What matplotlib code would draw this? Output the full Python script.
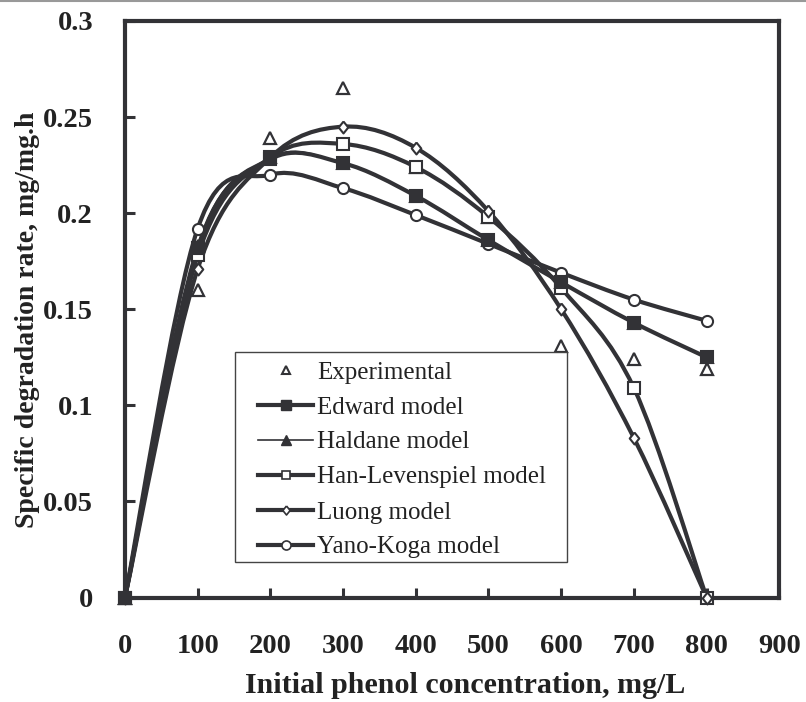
import matplotlib
matplotlib.use("Agg")
import matplotlib.pyplot as plt
from matplotlib.path import Path
from matplotlib.patches import PathPatch, Rectangle
from matplotlib.lines import Line2D
import numpy as np

# phenol concentration (mg/L) and specific degradation rate (mg/mg.h)
conc = [0, 100, 200, 300, 400, 500, 600, 700, 800]
experimental = [0, 0.160, 0.239, 0.265, 0.224, 0.198, 0.131, 0.124, 0.119]
edward = [0, 0.182, 0.228, 0.226, 0.209, 0.186, 0.164, 0.143, 0.125]
haldane = [0, 0.183, 0.229, 0.226, 0.209, 0.186, 0.164, 0.143, 0.125]
han_levenspiel = [0, 0.178, 0.229, 0.236, 0.224, 0.198, 0.161, 0.109, 0]
luong = [0, 0.171, 0.229, 0.245, 0.234, 0.201, 0.150, 0.083, 0]
yano_koga = [0, 0.192, 0.220, 0.213, 0.199, 0.184, 0.169, 0.155, 0.144]

xticks = [0, 100, 200, 300, 400, 500, 600, 700, 800, 900]
yticks = [0, 0.05, 0.1, 0.15, 0.2, 0.25, 0.3]
ytick_labels = ["0", "0.05", "0.1", "0.15", "0.2", "0.25", "0.3"]

INK = "#323236"
plt.rcParams["font.family"] = ["Liberation Serif", "DejaVu Serif"]


def smooth_path(x, y):
    """Catmull-Rom style bezier through the points (spreadsheet 'smoothed line')."""
    pts = np.column_stack([x, y]).astype(float)
    n = len(pts)
    verts = [pts[0]]
    codes = [Path.MOVETO]
    for i in range(n - 1):
        p0 = pts[i - 1] if i > 0 else pts[i]
        p1 = pts[i]
        p2 = pts[i + 1]
        p3 = pts[i + 2] if i + 2 < n else pts[i + 1]
        c1 = p1 + (p2 - p0) / 6.0
        c2 = p2 - (p3 - p1) / 6.0
        verts += [c1, c2, p2]
        codes += [Path.CURVE4] * 3
    return Path(verts, codes)


fig = plt.figure(figsize=(8.06, 7.02), dpi=100)
ax = fig.add_axes([125 / 806, 1 - 597.5 / 702, 654.3 / 806, 576.5 / 702])

diamond = [(0, 1), (0.8, 0), (0, -1), (-0.8, 0), (0, 1)]

# experimental points
ax.plot(conc, experimental, linestyle="none", marker="^", ms=8.5, mew=1.6,
        mec=INK, mfc="white", clip_on=False, zorder=3)

# (values, marker, face, size, line width, marker zorder)
models = [
    (edward, "s", INK, 8.8, 3.0, 12),
    (haldane, "^", INK, 8.0, 1.2, 5),
    (han_levenspiel, "s", "white", 8.0, 3.0, 6),
    (luong, diamond, "white", 8.6, 3.0, 7),
    (yano_koga, "o", "white", 8.0, 3.0, 8),
]
for i, (vals, mk, face, ms, lw, mz) in enumerate(models):
    patch = PathPatch(smooth_path(conc, vals), fill=False, edgecolor=INK,
                      lw=lw, capstyle="round", joinstyle="round",
                      clip_on=False, zorder=4)
    ax.add_patch(patch)
    ax.plot(conc, vals, linestyle="none", marker=mk, ms=ms, mew=1.5,
            mec=INK, mfc=face, clip_on=False, zorder=mz)

ax.set_xlim(0, 900)
ax.set_ylim(0, 0.3)
ax.set_xticks(xticks)
ax.set_xticklabels([str(v) for v in xticks])
ax.set_yticks(yticks)
ax.set_yticklabels(ytick_labels)

for side in ["left", "bottom", "right", "top"]:
    ax.spines[side].set_linewidth(3.0)
    ax.spines[side].set_color(INK)

ax.tick_params(axis="x", direction="in", length=7, width=2.2, color=INK,
               pad=26, labelsize=20.5)
ax.tick_params(axis="y", direction="in", length=7, width=2.2, color=INK,
               pad=23, labelsize=20.5)
for lab in ax.get_xticklabels() + ax.get_yticklabels():
    lab.set_fontweight("bold")
    lab.set_color("#222")

ax.set_xlabel("Initial phenol concentration, mg/L", fontsize=21.6,
              fontweight="bold", color="#222")
ax.xaxis.set_label_coords(0.52, (597.5 - 693) / 576.5)
ax.xaxis.label.set_va("baseline")
ax.set_ylabel("Specific degradation rate, mg/mg.h", fontsize=20,
              fontweight="bold", color="#222")
ax.yaxis.set_label_coords((27 - 125) / 654.3, (597.5 - 320) / 576.5)
ax.yaxis.label.set_va("center")

# legend: frame drawn separately as a plain box
box = Rectangle(((235 - 125) / 654.3, (597.5 - 562) / 576.5),
                (567 - 235) / 654.3, (562 - 352) / 576.5,
                transform=ax.transAxes, facecolor="white", edgecolor="#444",
                lw=1.0, zorder=20)
ax.add_patch(box)

handles = [
    Line2D([], [], linestyle="none", marker="^", ms=6, mew=1.5, mec=INK, mfc="white"),
    Line2D([], [], color=INK, lw=3, marker="s", ms=6.5, mec=INK, mfc=INK),
    Line2D([], [], color=INK, lw=1.2, marker="^", ms=6.5, mec=INK, mfc=INK),
    Line2D([], [], color=INK, lw=3, marker="s", ms=6, mew=1.2, mec=INK, mfc="white"),
    Line2D([], [], color=INK, lw=3, marker=diamond, ms=6.5, mew=1.2, mec=INK, mfc="white"),
    Line2D([], [], color=INK, lw=3, marker="o", ms=6.5, mew=1.2, mec=INK, mfc="white"),
]
labels = ["Experimental", "Edward model", "Haldane model", "Han-Levenspiel model",
          "Luong model", "Yano-Koga model"]
leg = ax.legend(handles, labels, loc="upper left",
                bbox_to_anchor=((258 - 125) / 654.3, (597.5 - 361) / 576.5),
                frameon=False, borderpad=0, borderaxespad=0, fontsize=18,
                handlelength=2.2, handletextpad=0.15, labelspacing=0.5)
leg.set_zorder(21)
for t in leg.get_texts():
    t.set_color("#222")

# thin rule along the top edge of the image
fig.add_artist(Line2D([0, 1], [0.999, 0.999], transform=fig.transFigure,
                      color="#999", lw=1.5))

fig.savefig("out.png", dpi=100, facecolor="white")
